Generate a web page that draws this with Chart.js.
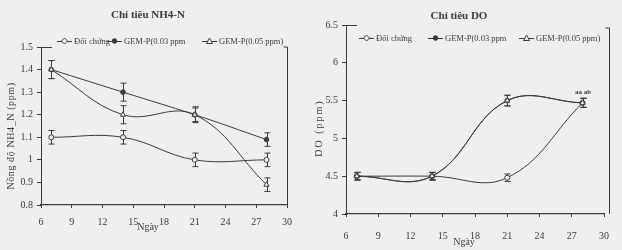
<!DOCTYPE html>
<html>
<head>
<meta charset="utf-8">
<script src="https://cdn.jsdelivr.net/npm/chart.js@4"></script>
<style>
  body { margin: 0; background: #efefed; }
  .box { position: absolute; top: 0; width: 311px; height: 250px; }
</style>
</head>
<body>
<div class="box" style="left:0"><canvas id="nh4Chart"></canvas></div>
<div class="box" style="left:311px"><canvas id="doChart"></canvas></div>
<script>
const days = [7, 14, 21, 28];
const seriesNames = ['Đối chứng', 'GEM-P(0.03 ppm', 'GEM-P(0.05 ppm)'];

// NH4-N (ppm)
const nh4Control = [1.1, 1.1, 1.0, 1.0];
const nh4Gem003 = [1.4, 1.3, 1.2, 1.09];
const nh4Gem005 = [1.4, 1.2, 1.2, 0.89];
const nh4ControlErr = [0.03, 0.03, 0.03, 0.03];
const nh4Gem003Err = [0.04, 0.04, 0.03, 0.03];
const nh4Gem005Err = [0.04, 0.04, 0.035, 0.03];

// DO (ppm)
const doControl = [4.5, 4.5, 4.48, 5.47];
const doGem003 = [4.5, 4.5, 5.5, 5.47];
const doGem005 = [4.5, 4.5, 5.5, 5.47];
const doControlErr = [0.05, 0.05, 0.05, 0.06];
const doGem003Err = [0.05, 0.05, 0.07, 0.06];
const doGem005Err = [0.05, 0.05, 0.07, 0.06];

const xTicks = [6, 9, 12, 15, 18, 21, 24, 27, 30];

const ink = '#3a3a3a';
const paper = '#f4f4f2';
const serif = 'Liberation Serif';

function pts(vals) {
  return vals.map((v, i) => ({ x: days[i], y: v }));
}

function series(vals, errs, i) {
  const styles = [
    { pointStyle: 'circle', pointRadius: 2.5, pointBackgroundColor: paper },
    { pointStyle: 'circle', pointRadius: 2.3, pointBackgroundColor: ink },
    { pointStyle: 'triangle', pointRadius: 3, pointBackgroundColor: paper, order: -1 }
  ];
  return Object.assign({
    label: seriesNames[i],
    data: pts(vals),
    errors: errs,
    borderColor: ink,
    borderWidth: 1,
    pointBorderColor: ink,
    pointBorderWidth: 1,
    tension: 0.4
  }, styles[i]);
}

const decor = {
  id: 'decor',
  beforeDatasetsDraw(chart) {
    const ctx = chart.ctx;
    const xs = chart.scales.x, ys = chart.scales.y;
    ctx.save();
    ctx.strokeStyle = ink;
    ctx.lineWidth = 1;
    chart.data.datasets.forEach(ds => {
      ds.data.forEach((p, j) => {
        const e = ds.errors[j];
        const px = Math.round(xs.getPixelForValue(p.x)) + 0.5;
        const y1 = ys.getPixelForValue(p.y + e);
        const y2 = ys.getPixelForValue(p.y - e);
        ctx.beginPath();
        ctx.moveTo(px, y1); ctx.lineTo(px, y2);
        ctx.moveTo(px - 3, y1); ctx.lineTo(px + 3, y1);
        ctx.moveTo(px - 3, y2); ctx.lineTo(px + 3, y2);
        ctx.stroke();
      });
    });
    ctx.restore();
  },
  afterDraw(chart, args, o) {
    const ctx = chart.ctx;
    const { left, right, top, bottom } = chart.chartArea;
    ctx.save();
    ctx.strokeStyle = ink;
    ctx.fillStyle = ink;
    ctx.lineWidth = 1;
    // frame pieces
    ctx.beginPath();
    ctx.moveTo(left, top + 0.5); ctx.lineTo(left + 11, top + 0.5);
    const rx = Math.round(right + o.rightGap) + 0.5;
    ctx.moveTo(rx - 4, top + o.rightTop); ctx.lineTo(rx, top + o.rightTop);
    ctx.lineTo(rx, bottom);
    ctx.stroke();

    // title
    ctx.font = 'bold 11px "' + serif + '"';
    ctx.textAlign = 'center';
    ctx.textBaseline = 'middle';
    ctx.fillText(o.title, o.titleX, o.titleY);

    // legend
    ctx.font = '8.5px "' + serif + '"';
    ctx.textAlign = 'left';
    seriesNames.forEach((name, i) => {
      const ds = chart.data.datasets[i];
      const lx = o.legendX[i], ly = o.legendY;
      ctx.beginPath();
      ctx.moveTo(lx, ly + 0.5); ctx.lineTo(lx + 15, ly + 0.5);
      ctx.stroke();
      const cx = lx + 7.5;
      ctx.beginPath();
      if (ds.pointStyle === 'triangle') {
        ctx.moveTo(cx, ly - 3); ctx.lineTo(cx + 3, ly + 2.5); ctx.lineTo(cx - 3, ly + 2.5); ctx.closePath();
      } else if (i === 0) {
        ctx.moveTo(cx, ly - 3); ctx.lineTo(cx + 3, ly); ctx.lineTo(cx, ly + 3); ctx.lineTo(cx - 3, ly); ctx.closePath();
      } else {
        ctx.arc(cx, ly, 2.3, 0, Math.PI * 2);
      }
      ctx.fillStyle = ds.pointBackgroundColor;
      ctx.fill();
      ctx.stroke();
      ctx.fillStyle = ink;
      ctx.fillText(name, lx + 17, ly + 0.5);
    });

    // axis titles
    ctx.font = '10px "' + serif + '"';
    ctx.textAlign = 'center';
    ctx.fillText('Ngày', o.xTitleX, o.xTitleY);
    ctx.save();
    ctx.translate(o.yTitleX, o.yTitleY);
    ctx.rotate(-Math.PI / 2);
    ctx.font = '10px "' + serif + '"';
    ctx.letterSpacing = o.yTitleSpacing;
    ctx.fillText(o.yTitle, 0, 0);
    ctx.restore();

    if (o.note) {
      ctx.font = 'bold 7px "' + serif + '"';
      ctx.fillText(o.note, o.noteX, o.noteY);
    }
    ctx.restore();
  }
};

function axes(yMin, yMax, yStep, yWidth, xHeight, xPad) {
  return {
    x: {
      type: 'linear', min: 6, max: 30,
      afterBuildTicks: s => { s.ticks = xTicks.map(v => ({ value: v })); },
      afterFit: s => { s.height = xHeight; },
      ticks: { color: ink, font: { family: serif, size: 10 }, padding: xPad },
      grid: { drawOnChartArea: false, tickLength: 3, color: ink },
      border: { color: ink, width: 1.2 }
    },
    y: {
      min: yMin, max: yMax,
      afterFit: s => { s.width = yWidth; },
      ticks: {
        stepSize: yStep, color: ink, font: { family: serif, size: 10 }, padding: 4,
        callback: v => String(Number(v.toFixed(2)))
      },
      grid: { drawOnChartArea: false, tickLength: 4, color: ink },
      border: { color: ink, width: 1 }
    }
  };
}

new Chart(document.getElementById('nh4Chart'), {
  type: 'line',
  data: {
    datasets: [
      series(nh4Control, nh4ControlErr, 0),
      series(nh4Gem003, nh4Gem003Err, 1),
      series(nh4Gem005, nh4Gem005Err, 2)
    ]
  },
  options: {
    responsive: true,
    maintainAspectRatio: false,
    animation: false,
    layout: { padding: { top: 47, right: 24, left: 0, bottom: 0 } },
    scales: axes(0.8, 1.5, 0.1, 41, 45, 8),
    plugins: {
      legend: { display: false },
      tooltip: { enabled: false },
      decor: {
        title: 'Chỉ tiêu NH4-N', titleX: 148, titleY: 15,
        legendX: [57, 107, 202], legendY: 41,
        xTitleX: 148, xTitleY: 227,
        yTitle: 'Nồng độ NH4_N (ppm)', yTitleX: 11, yTitleY: 136, yTitleSpacing: '0.6px',
        rightGap: 0, rightTop: 0
      }
    }
  },
  plugins: [decor]
});

new Chart(document.getElementById('doChart'), {
  type: 'line',
  data: {
    datasets: [
      series(doControl, doControlErr, 0),
      series(doGem003, doGem003Err, 1),
      series(doGem005, doGem005Err, 2)
    ]
  },
  options: {
    responsive: true,
    maintainAspectRatio: false,
    animation: false,
    layout: { padding: { top: 25, right: 14, left: 0, bottom: 0 } },
    scales: axes(4, 6.5, 0.5, 35, 36, 13),
    plugins: {
      legend: { display: false },
      tooltip: { enabled: false },
      decor: {
        title: 'Chỉ tiêu DO', titleX: 148, titleY: 16,
        legendX: [48, 117, 208], legendY: 38,
        xTitleX: 153, xTitleY: 242,
        yTitle: 'DO (ppm)', yTitleX: 8, yTitleY: 128, yTitleSpacing: '2px',
        rightGap: 5, rightTop: 3,
        note: 'aa ab', noteX: 272, noteY: 92
      }
    }
  },
  plugins: [decor]
});
</script>
</body>
</html>
